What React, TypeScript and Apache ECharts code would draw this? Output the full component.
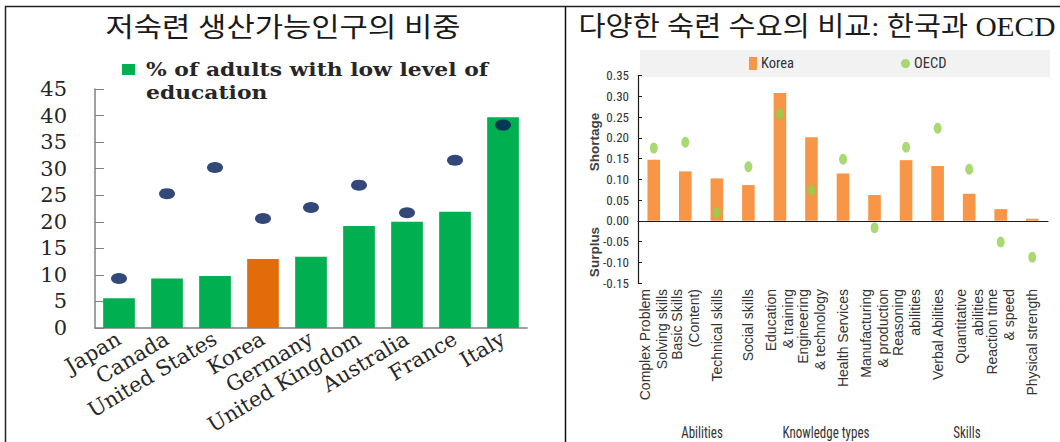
import React, { useEffect, useRef } from "react";
import * as echarts from "echarts";

// ---------- Left panel data ----------
const leftTitle = "저숙련 생산가능인구의 비중";
const leftCategories = ["Japan", "Canada", "United States", "Korea", "Germany", "United Kingdom", "Australia", "France", "Italy"];
const lowEducationShare = [5.6, 9.3, 9.8, 13.0, 13.4, 19.2, 20.0, 21.9, 39.7];
const dotValues = [9.3, 25.3, 30.2, 20.6, 22.7, 26.9, 21.7, 31.6, 38.2];
const highlightCategory = "Korea";
const leftLegendLines = ["% of adults with low level of", "education"];

// ---------- Right panel data ----------
const rightTitle = "다양한 숙련 수요의 비교: 한국과 OECD";
const skillCategories = [
  "Complex Problem\nSolving skills",
  "Basic Skills\n(Content)",
  "Technical skills",
  "Social skills",
  "Education\n& training",
  "Engineering\n& technology",
  "Health Services",
  "Manufacturing\n& production",
  "Reasoning\nabilities",
  "Verbal Abilities",
  "Quantitative\nabilities",
  "Reaction time\n& speed",
  "Physical strength",
];
const koreaValues = [0.147, 0.119, 0.102, 0.086, 0.308, 0.201, 0.114, 0.062, 0.146, 0.132, 0.065, 0.028, 0.005];
const oecdValues = [0.175, 0.189, 0.019, 0.13, 0.257, 0.074, 0.148, -0.017, 0.177, 0.223, 0.124, -0.051, -0.088];
const groupLabels = ["Abilities", "Knowledge types", "Skills"];
const sideLabels = ["Shortage", "Surplus"];

const SERIF = "'DejaVu Serif', serif";
const TITLE_FONT = "'Liberation Serif', 'Noto Sans CJK KR', serif";
const NARROW = "'Liberation Sans Narrow', 'Roboto Condensed', Roboto, 'Liberation Sans', sans-serif";
const SANS = "'Liberation Sans', Arial, sans-serif";

export default function App() {
  const ref = useRef<HTMLDivElement>(null);

  useEffect(() => {
    document.body.style.margin = "0";
    if (!ref.current) return;
    const chart = echarts.init(ref.current, undefined, { renderer: "svg" });

    const option: any = {
      animation: false,
      backgroundColor: "#ffffff",
      grid: [
        { left: 95, top: 89, width: 432, height: 239 },
        { left: 638, top: 75.5, width: 410, height: 207.5 },
      ],
      legend: [
        {
          data: ["Korea"],
          left: 749,
          top: 56,
          icon: "rect",
          itemWidth: 8,
          itemHeight: 13,
          itemGap: 0,
          padding: 0,
          textStyle: { fontFamily: NARROW, fontSize: 14.5, color: "#333", padding: [0, 0, 0, -1] },
        },
        {
          data: ["OECD"],
          left: 901,
          top: 56,
          icon: "circle",
          itemWidth: 9,
          itemHeight: 11,
          padding: 0,
          textStyle: { fontFamily: NARROW, fontSize: 14.5, color: "#333", padding: [0, 0, 0, -1] },
        },
      ],
      xAxis: [
        {
          type: "category",
          gridIndex: 0,
          data: leftCategories,
          axisLine: { lineStyle: { color: "#808080", width: 1.5 } },
          axisTick: { inside: true, length: 6, lineStyle: { color: "#808080" } },
          axisLabel: {
            rotate: 31,
            margin: 9,
            interval: 0,
            fontFamily: SERIF,
            fontSize: 21,
            color: "#262626",
          },
        },
        {
          type: "category",
          gridIndex: 1,
          data: skillCategories,
          axisLine: { onZero: true, lineStyle: { color: "#1a1a1a", width: 1.2 } },
          axisTick: { inside: true, length: 4, lineStyle: { color: "#1a1a1a" } },
          axisLabel: {
            rotate: 90,
            margin: 6,
            interval: 0,
            fontFamily: SANS,
            fontSize: 14,
            lineHeight: 17,
            color: "#333",
          },
        },
      ],
      yAxis: [
        {
          type: "value",
          gridIndex: 0,
          min: 0,
          max: 45,
          interval: 5,
          splitLine: { show: false },
          axisLine: { show: true, lineStyle: { color: "#808080", width: 1.5 } },
          axisTick: { show: true, inside: true, length: 9, lineStyle: { color: "#808080" } },
          axisLabel: { margin: 28, fontFamily: SERIF, fontSize: 21, color: "#262626" },
        },
        {
          type: "value",
          gridIndex: 1,
          min: -0.15,
          max: 0.35,
          interval: 0.05,
          splitLine: { show: false },
          axisLine: { show: true, onZero: false, lineStyle: { color: "#1a1a1a", width: 1.2 } },
          axisTick: { show: true, inside: true, length: 4, lineStyle: { color: "#1a1a1a" } },
          axisLabel: {
            margin: 9,
            fontFamily: NARROW,
            fontSize: 13,
            color: "#333",
            formatter: (v: number) => (Math.abs(v) < 1e-9 ? "0.00" : v.toFixed(2)),
          },
        },
      ],
      series: [
        {
          name: "% of adults with low level of education",
          type: "bar",
          xAxisIndex: 0,
          yAxisIndex: 0,
          barWidth: "66%",
          data: lowEducationShare.map((v, i) =>
            leftCategories[i] === highlightCategory
              ? { value: v, itemStyle: { color: "#E36C0A" } }
              : v
          ),
          itemStyle: { color: "#00B050" },
        },
        {
          name: "Low-skilled share",
          type: "scatter",
          xAxisIndex: 0,
          yAxisIndex: 0,
          symbol: "circle",
          symbolSize: [16, 11],
          data: dotValues,
          itemStyle: { color: "#001A57" },
          z: 3,
        },
        {
          name: "Korea",
          type: "bar",
          xAxisIndex: 1,
          yAxisIndex: 1,
          barWidth: "40%",
          data: koreaValues,
          itemStyle: { color: "#F79646" },
        },
        {
          name: "OECD",
          type: "scatter",
          xAxisIndex: 1,
          yAxisIndex: 1,
          symbol: "circle",
          symbolSize: [8, 11],
          data: oecdValues,
          itemStyle: { color: "#92D050" },
          z: 3,
        },
      ],
      graphic: [
        // panel borders
        { type: "line", shape: { x1: 5, y1: 6.5, x2: 1060, y2: 6.5 }, style: { stroke: "#222", lineWidth: 1.5 } },
        { type: "line", shape: { x1: 5.5, y1: 6, x2: 5.5, y2: 442 }, style: { stroke: "#222", lineWidth: 1.5 } },
        { type: "line", shape: { x1: 565.5, y1: 6, x2: 565.5, y2: 442 }, style: { stroke: "#111", lineWidth: 1.5 } },
        // titles
        {
          type: "text",
          x: 283,
          y: 28,
          scaleX: 1.14,
          style: { text: leftTitle, fontFamily: TITLE_FONT, fontSize: 27, fill: "#1a1a1a", align: "center", verticalAlign: "middle" },
        },
        {
          type: "text",
          x: 817,
          y: 27,
          scaleX: 1.09,
          style: { text: rightTitle, fontFamily: TITLE_FONT, fontSize: 27, fill: "#1a1a1a", align: "center", verticalAlign: "middle" },
        },
        // left legend
        { type: "rect", shape: { x: 122, y: 64, width: 13, height: 11 }, style: { fill: "#00B050" } },
        {
          type: "text",
          x: 146,
          y: 70,
          scaleX: 1.15,
          style: { text: leftLegendLines[0], fontFamily: SERIF, fontSize: 19, fontWeight: "bold", fill: "#262626", verticalAlign: "middle" },
        },
        {
          type: "text",
          x: 146,
          y: 93,
          scaleX: 1.15,
          style: { text: leftLegendLines[1], fontFamily: SERIF, fontSize: 19, fontWeight: "bold", fill: "#262626", verticalAlign: "middle" },
        },
        // right legend background
        { type: "rect", z: -1, shape: { x: 640, y: 50, width: 410, height: 27 }, style: { fill: "#F2F2F2" } },
        // side labels
        {
          type: "text",
          x: 594,
          y: 142,
          rotation: Math.PI / 2,
          style: { text: sideLabels[0], fontFamily: SANS, fontSize: 13.5, fontWeight: "bold", fill: "#404040", align: "center", verticalAlign: "middle" },
        },
        {
          type: "text",
          x: 594,
          y: 252,
          rotation: Math.PI / 2,
          style: { text: sideLabels[1], fontFamily: SANS, fontSize: 13.5, fontWeight: "bold", fill: "#404040", align: "center", verticalAlign: "middle" },
        },
        // group labels
        {
          type: "text",
          x: 702,
          y: 432,
          scaleY: 1.25,
          style: { text: groupLabels[0], fontFamily: NARROW, fontSize: 13, fill: "#333", align: "center", verticalAlign: "middle" },
        },
        {
          type: "text",
          x: 826,
          y: 432,
          scaleY: 1.25,
          style: { text: groupLabels[1], fontFamily: NARROW, fontSize: 13, fill: "#333", align: "center", verticalAlign: "middle" },
        },
        {
          type: "text",
          x: 967,
          y: 432,
          scaleY: 1.25,
          style: { text: groupLabels[2], fontFamily: NARROW, fontSize: 13, fill: "#333", align: "center", verticalAlign: "middle" },
        },
      ],
    };

    chart.setOption(option);
    return () => chart.dispose();
  }, []);

  return <div ref={ref} style={{ width: 1060, height: 442 }} />;
}
